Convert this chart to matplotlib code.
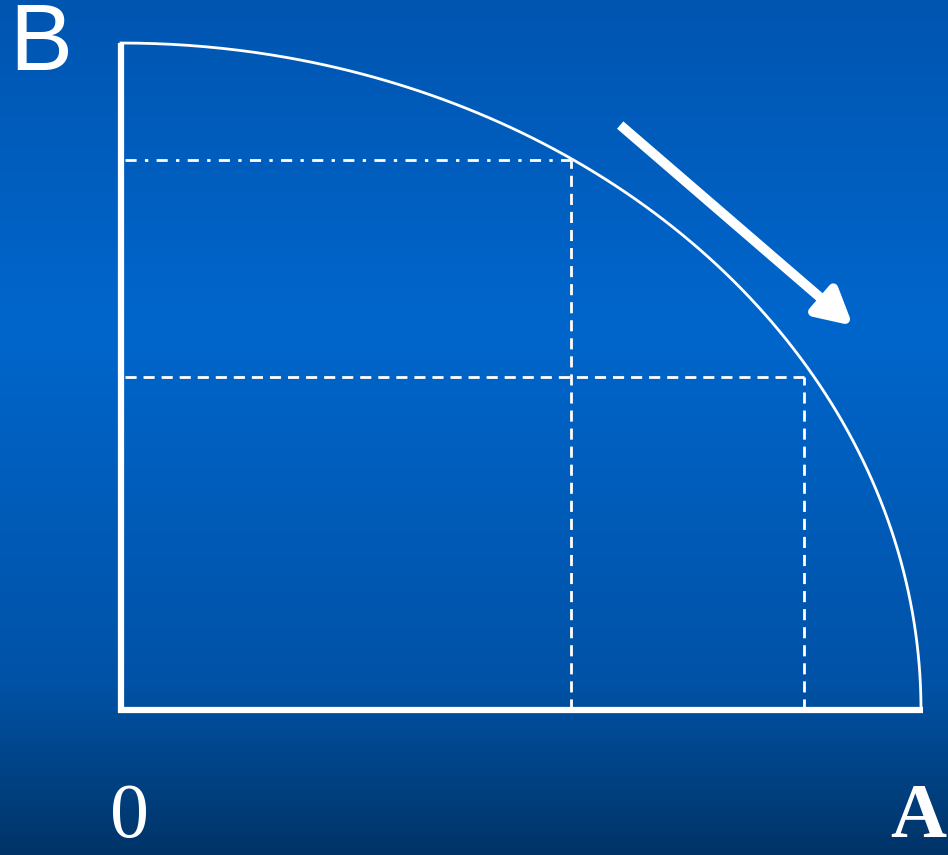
import matplotlib
matplotlib.use("Agg")
import matplotlib.pyplot as plt
import numpy as np
from matplotlib.colors import LinearSegmentedColormap

# Frontier intercepts (good A on x, good B on y)
a_max = 100.0
b_max = 100.0
# Two points marked with guide lines
point_a = [56.2, 82.5]
point_b = [85.4, 49.9]
axis_labels = ["A", "B", "0"]

fig = plt.figure(figsize=(9.48, 8.55), dpi=100)

# Background gradient
bg = fig.add_axes([0, 0, 1, 1], zorder=0)
cmap = LinearSegmentedColormap.from_list(
    "bg", [(0.0, "#0055b0"), (0.38, "#0066cc"), (0.8, "#0052a6"), (1.0, "#003468")])
grad = np.linspace(0, 1, 256).reshape(-1, 1)
bg.imshow(grad, aspect="auto", cmap=cmap, extent=[0, 1, 0, 1], origin="upper")
bg.axis("off")

ax = fig.add_axes([0, 0, 1, 1], zorder=1)
ax.patch.set_alpha(0)
ax.set_xlim(-15.125, 103.375)
ax.set_ylim(-21.74, 106.45)
ax.axis("off")

# Frontier curve (quarter ellipse)
t = np.linspace(0, np.pi / 2, 300)
ax.plot(a_max * np.sin(t), b_max * np.cos(t), color="white", lw=2, zorder=3)

# Axes
ax.plot([0, 0], [-0.5, b_max], color="white", lw=4.5, solid_capstyle="butt", zorder=4)
ax.plot([-0.4, a_max + 0.2], [0, 0], color="white", lw=4.5, solid_capstyle="butt", zorder=4)

# Guide lines
ax.plot([0.5, point_a[0]], [point_a[1], point_a[1]], color="white", lw=2,
        dashes=(4, 3, 1.2, 3), zorder=2)
ax.plot([point_a[0], point_a[0]], [0, point_a[1]], color="white", lw=2,
        dashes=(4, 2.5), zorder=2)
ax.plot([0.5, point_b[0]], [point_b[1], point_b[1]], color="white", lw=2,
        dashes=(4, 2.5), zorder=2)
ax.plot([point_b[0], point_b[0]], [0, point_b[1]], color="white", lw=2,
        dashes=(4, 2.5), zorder=2)

# Direction arrow
ax.annotate("", xy=(91.5, 57.6), xytext=(62.4, 87.7),
            arrowprops=dict(arrowstyle="-|>,head_length=1.4,head_width=0.75",
                            mutation_scale=15, color="white", lw=7,
                            capstyle="butt", shrinkA=0, shrinkB=0))

# Labels
ax.text(-10, 99.6, axis_labels[1], color="white", fontsize=68, family="Liberation Sans",
        ha="center", va="center")
ax.text(1.1, -16.2, axis_labels[2], color="white", fontsize=56, family="Liberation Serif",
        ha="center", va="center")
ax.text(103.2, -16.2, axis_labels[0], color="white", fontsize=56, family="Liberation Serif",
        fontweight="bold", ha="right", va="center")

fig.savefig("out.png", dpi=100)
